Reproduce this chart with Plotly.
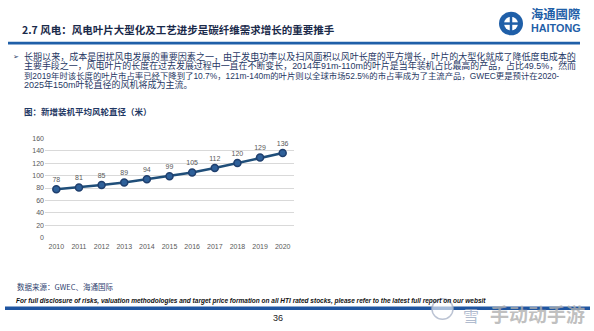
import plotly.graph_objects as go

W, H = 594, 331

years = ["2010", "2011", "2012", "2013", "2014", "2015", "2016", "2017", "2018", "2019", "2020"]
diameter = [78, 81, 85, 89, 94, 99, 105, 112, 120, 129, 136]
y_ticks = [0, 20, 40, 60, 80, 100, 120, 140, 160]

title_text = "2.7 风电：风电叶片大型化及工艺进步是碳纤维需求增长的重要推手"
bullet_lines = [
    "长期以来，成本是困扰风电发展的重要因素之一，由于发电功率以及扫风面积以风叶长度的平方增长，叶片的大型化就成了降低度电成本的",
    "主要手段之一，风电叶片的长度在过去发展过程中一直在不断变长，2014年91m-110m的叶片是当年装机占比最高的产品，占比49.5%，然而",
    "到2019年时该长度的叶片市占率已经下降到了10.7%，121m-140m的叶片则以全球市场52.5%的市占率成为了主流产品，GWEC更是预计在2020-",
    "2025年150m叶轮直径的风机将成为主流。",
]
line_sizes = [9.05, 8.95, 8.4, 9.0]
fig_caption = "图：新增装机平均风轮直径（米）"
source_text = "数据来源：GWEC、海通国际"
disclaimer = ("For full disclosure of risks, valuation methodologies and target price formation on all HTI "
              "rated stocks, please refer to the latest full report on our websit")
page_no = "36"

CJK = "Noto Sans CJK SC"
MIX = "Liberation Sans, Noto Sans CJK SC"
NAVY = "#1f3864"
BLUE = "#1f5fa8"


def px(x, y):
    return x / W, 1 - y / H


fig = go.Figure()
fig.add_trace(go.Scatter(
    x=years, y=diameter, mode="lines+markers+text",
    text=[str(v) for v in diameter], textposition="top center",
    textfont=dict(family="Liberation Sans", size=7, color="#595959"),
    line=dict(color="#1f4e79", width=2.5),
    marker=dict(size=7, color="#2e6099", line=dict(color="#1f3f6e", width=1.5)),
    cliponaxis=False, showlegend=False,
))

x0, x1 = 45, 294
y_top, y_bot = 137, 239
fig.update_layout(
    width=W, height=H, margin=dict(l=0, r=0, t=0, b=0),
    paper_bgcolor="white", plot_bgcolor="white",
    xaxis=dict(domain=[x0 / W, x1 / W], type="category", range=[-0.5, 10.5],
               showgrid=False, showline=False, ticks="", ticklabelstandoff=3,
               tickfont=dict(family="Liberation Sans", size=7, color="#595959")),
    yaxis=dict(domain=[1 - y_bot / H, 1 - y_top / H], range=[0, 160], tickvals=y_ticks,
               showgrid=True, gridcolor="#d9d9d9", gridwidth=1, zeroline=False,
               showline=False, ticks="",
               tickfont=dict(family="Liberation Sans", size=7, color="#595959")),
    font=dict(family=CJK),
)

ann = []
shapes = []

# Title
ann.append(dict(text="<b>" + title_text + "</b>", x=px(20, 0)[0], y=px(0, 26)[1],
                font=dict(family=CJK, size=10.5, color="#1a2a4a")))
# top bar
shapes.append(dict(type="rect", xref="paper", yref="paper",
                   x0=8 / W, x1=580 / W, y0=1 - 41.5 / H, y1=1 - 38.5 / H,
                   fillcolor=BLUE, line=dict(width=0)))
# logo
shapes.append(dict(type="circle", xref="paper", yref="paper",
                   x0=499 / W, x1=523 / W, y0=1 - 32 / H, y1=1 - 8 / H,
                   fillcolor=BLUE, line=dict(width=0)))
shapes.append(dict(type="circle", xref="paper", yref="paper",
                   x0=504 / W, x1=518 / W, y0=1 - 27 / H, y1=1 - 13 / H,
                   fillcolor="white", line=dict(width=0)))
shapes.append(dict(type="line", xref="paper", yref="paper",
                   x0=511 / W, x1=511 / W, y0=1 - 29 / H, y1=1 - 11 / H,
                   line=dict(color=BLUE, width=2.5)))
shapes.append(dict(type="line", xref="paper", yref="paper",
                   x0=502 / W, x1=520 / W, y0=1 - 20 / H, y1=1 - 20 / H,
                   line=dict(color=BLUE, width=2.5)))
ann.append(dict(text="<b>海通國際</b>", x=px(529, 0)[0], y=px(0, 11)[1],
                font=dict(family=MIX, size=12.3, color=BLUE)))
ann.append(dict(text="<b>HAITONG</b>", x=px(529, 0)[0], y=px(0, 24.5)[1],
                font=dict(family="Liberation Sans", size=10.8, color=BLUE)))

# bullet
ann.append(dict(text="➢", x=px(11, 0)[0], y=px(0, 54)[1],
                font=dict(family="DejaVu Sans", size=7, color=NAVY)))
body = "<br>".join('<span style="font-size:%gpx">%s</span>' % (s, l)
                   for l, s in zip(bullet_lines, line_sizes))
ann.append(dict(text=body, x=px(22, 0)[0], y=px(0, 68.3)[1], align="left",
                font=dict(family=MIX, size=7.3, color=NAVY)))

ann.append(dict(text="<b>" + fig_caption + "</b>", x=px(22, 0)[0], y=px(0, 109)[1],
                font=dict(family=CJK, size=8.5, color=NAVY)))

ann.append(dict(text=source_text, x=px(15, 0)[0], y=px(0, 289)[1],
                font=dict(family=CJK, size=7.5, color="#2f3f6f")))
ann.append(dict(text="<b><i>" + disclaimer + "</i></b>", x=px(14, 0)[0], y=px(0, 303)[1],
                font=dict(family="Liberation Sans", size=6.5, color="#111111")))
shapes.append(dict(type="rect", xref="paper", yref="paper",
                   x0=5 / W, x1=590 / W, y0=1 - 312.5 / H, y1=1 - 309 / H,
                   fillcolor="#1f55a0", line=dict(width=0)))
ann.append(dict(text=page_no, x=px(271, 0)[0], y=px(0, 321)[1],
                font=dict(family="Liberation Sans", size=9, color="#222222")))

# watermark
shapes.append(dict(type="circle", xref="paper", yref="paper",
                   x0=432 / W, x1=453 / W, y0=1 - 322 / H, y1=1 - 301 / H,
                   fillcolor="rgba(255,255,255,0.6)", line=dict(color="rgba(170,180,200,0.8)", width=1.5)))
ann.append(dict(text="雪", x=px(461, 0)[0], y=px(0, 319)[1],
                font=dict(family=MIX, size=16, color="rgba(150,165,190,0.75)")))
ann.append(dict(text="<b>手动动手游</b>", x=px(488, 0)[0], y=px(0, 318)[1],
                font=dict(family=MIX, size=19, color="rgba(175,175,175,0.8)")))

for a in ann:
    a.update(xref="paper", yref="paper", xanchor="left", yanchor="middle", showarrow=False)

fig.update_layout(annotations=ann, shapes=shapes)
fig.write_html("out.html")
